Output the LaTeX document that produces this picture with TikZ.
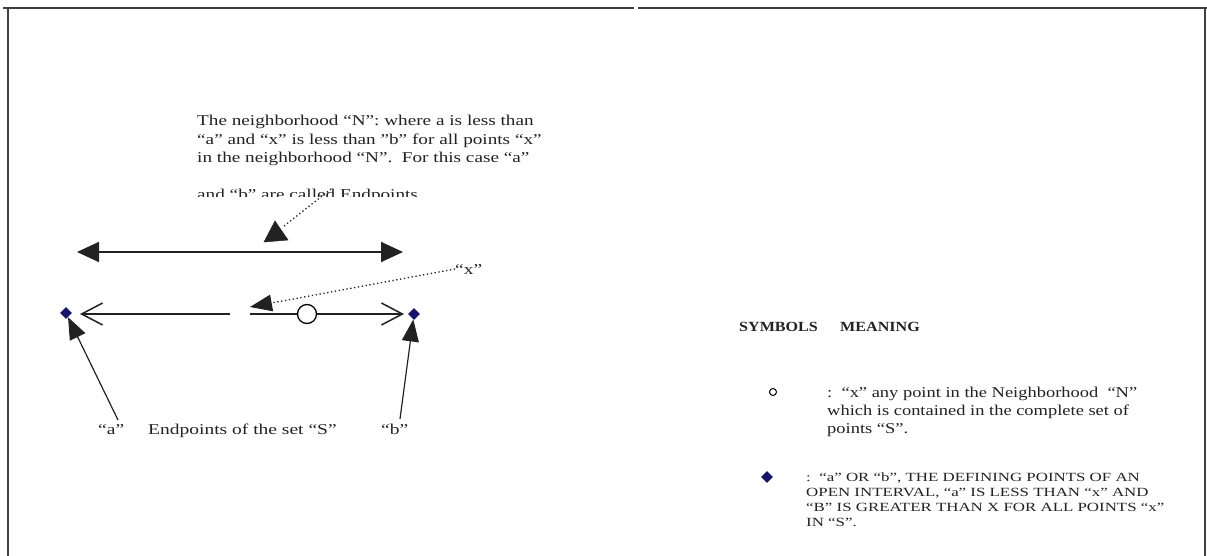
\documentclass[tikz,border=0pt]{standalone}
\usepackage{graphicx}
\usepackage{fontspec}
\setmainfont{Liberation Serif}
\usetikzlibrary{arrows.meta,shapes.geometric}
\definecolor{navy}{HTML}{14146E}
\definecolor{framec}{HTML}{404040}
\definecolor{ink}{HTML}{222222}
\newcommand\widetxt[2][1.3]{\scalebox{#1}[1]{#2}}
\begin{document}
\begin{tikzpicture}[x=1pt,y=-1pt,
  txt/.style={anchor=base west,inner sep=0pt,text=ink,font=\fontsize{15}{18}\selectfont},
  ltxt/.style={anchor=base west,inner sep=0pt,text=ink,font=\fontsize{15}{18}\selectfont},
  stxt/.style={anchor=base west,inner sep=0pt,text=ink,font=\fontsize{12.5}{15}\selectfont},
  hdr/.style={anchor=base west,inner sep=0pt,text=ink,font=\fontsize{14}{16}\selectfont\bfseries},
  dotline/.style={draw=ink,line width=1.3pt,dash pattern=on 1.3pt off 2.6pt},
  bigarrow/.style={draw=ink,line width=1.8pt},
  leader/.style={draw=ink,line width=1.2pt,-{Triangle[length=22pt,width=17pt]}},
  openline/.style={draw=ink,line width=1.6pt},
  endpt/.style={diamond,fill=navy,inner sep=0pt,minimum size=12pt},
  pt/.style={circle,draw=black,fill=white,line width=1.3pt,inner sep=0pt,minimum size=19pt},
  head/.style={fill=ink,draw=ink,line width=0.5pt}
]
\useasboundingbox (0,0) rectangle (1207,556);
% frame
\draw[framec,line width=2pt] (3,8) -- (634,8);
\draw[framec,line width=2pt] (638,8) -- (1207,8);
\draw[framec,line width=2pt] (8,8) -- (8,556);
\draw[framec,line width=1.2pt] (1205,8) -- (1205,556);

% top text (last line cut off)
\begin{scope}
\clip (180,100) rectangle (600,197);
\node[txt] (t1) at (197,126) {\widetxt[1.28]{The neighborhood “N”: where a is less than}};
\node[txt] (t2) at (197,144.5) {\widetxt[1.28]{“a” and “x” is less than ”b” for all points “x”}};
\node[txt] (t3) at (197,163) {\widetxt[1.28]{in the neighborhood “N”.\ \ For this case “a”}};
\node[txt] (t4) at (197,200) {\widetxt[1.28]{and “b” are called Endpoints}};
\end{scope}

% dotted pointer from text to the neighbourhood arrow
\coordinate (nA) at (331,189);
\coordinate (nB) at (284,226);
\draw[dotline] (nA) -- (nB);
\path[head] (275,221) -- (264,242) -- (288,240) -- cycle;

% neighbourhood double arrow
\coordinate (nL) at (77,252);
\coordinate (nR) at (403,252);
\draw[bigarrow,{Triangle[length=22pt,width=20pt]}-{Triangle[length=22pt,width=20pt]}] (nL) -- (nR);

% endpoints and the open interval line
\node[endpt] (a) at (66,313) {};
\node[endpt] (b) at (414,314) {};
\coordinate (gapL) at (230,314);
\coordinate (gapR) at (250,314);
\draw[openline,-{Straight Barb[length=21pt,width=22pt,line width=1.5pt]}] (gapL) -- (80,314);
\draw[openline,-{Straight Barb[length=21pt,width=22pt,line width=1.5pt]}] (gapR) -- (404,314);
\node[pt] (x) at (307,314) {};

% "x" label and dotted pointer
\node[txt] (xl) at (455,274) {\widetxt{“x”}};
\draw[dotline,-{Triangle[length=22pt,width=17pt,line width=0pt]}] (xl.west) -- (250,307);

% labels below
\node[ltxt] (la) at (98,434) {\widetxt{“a”}};
\node[ltxt] (lS) at (148,434) {\widetxt{Endpoints of the set “S”}};
\node[ltxt] (lb) at (381,434) {\widetxt{“b”}};
\draw[leader] (118,420) -- (a);
\draw[leader] (400,419) -- (b);

% legend
\node[hdr] (h1) at (739,331) {\widetxt[1.15]{SYMBOLS}};
\node[hdr] (h2) at (840,331) {\widetxt[1.15]{MEANING}};
\node[circle,draw=black,line width=1pt,inner sep=0pt,minimum size=7pt] (s1) at (773,392) {};
\node[txt] (m1a) at (827,397) {\widetxt[1.23]{:\ \ “x” any point in the Neighborhood\ \ “N”}};
\node[txt] (m1b) at (827,415) {\widetxt[1.23]{which is contained in the complete set of}};
\node[txt] (m1c) at (827,433) {\widetxt[1.23]{points “S”.}};
\node[endpt] (s2) at (767,477) {};
\node[stxt] (m2a) at (806,481) {\widetxt[1.35]{:\ \ “a” OR “b”, THE DEFINING POINTS OF AN}};
\node[stxt] (m2b) at (806,496) {\widetxt[1.35]{OPEN INTERVAL, “a” IS LESS THAN “x” AND}};
\node[stxt] (m2c) at (806,511) {\widetxt[1.35]{“B” IS GREATER THAN X FOR ALL POINTS “x”}};
\node[stxt] (m2d) at (806,526) {\widetxt[1.35]{IN “S”.}};
\end{tikzpicture}
\end{document}
